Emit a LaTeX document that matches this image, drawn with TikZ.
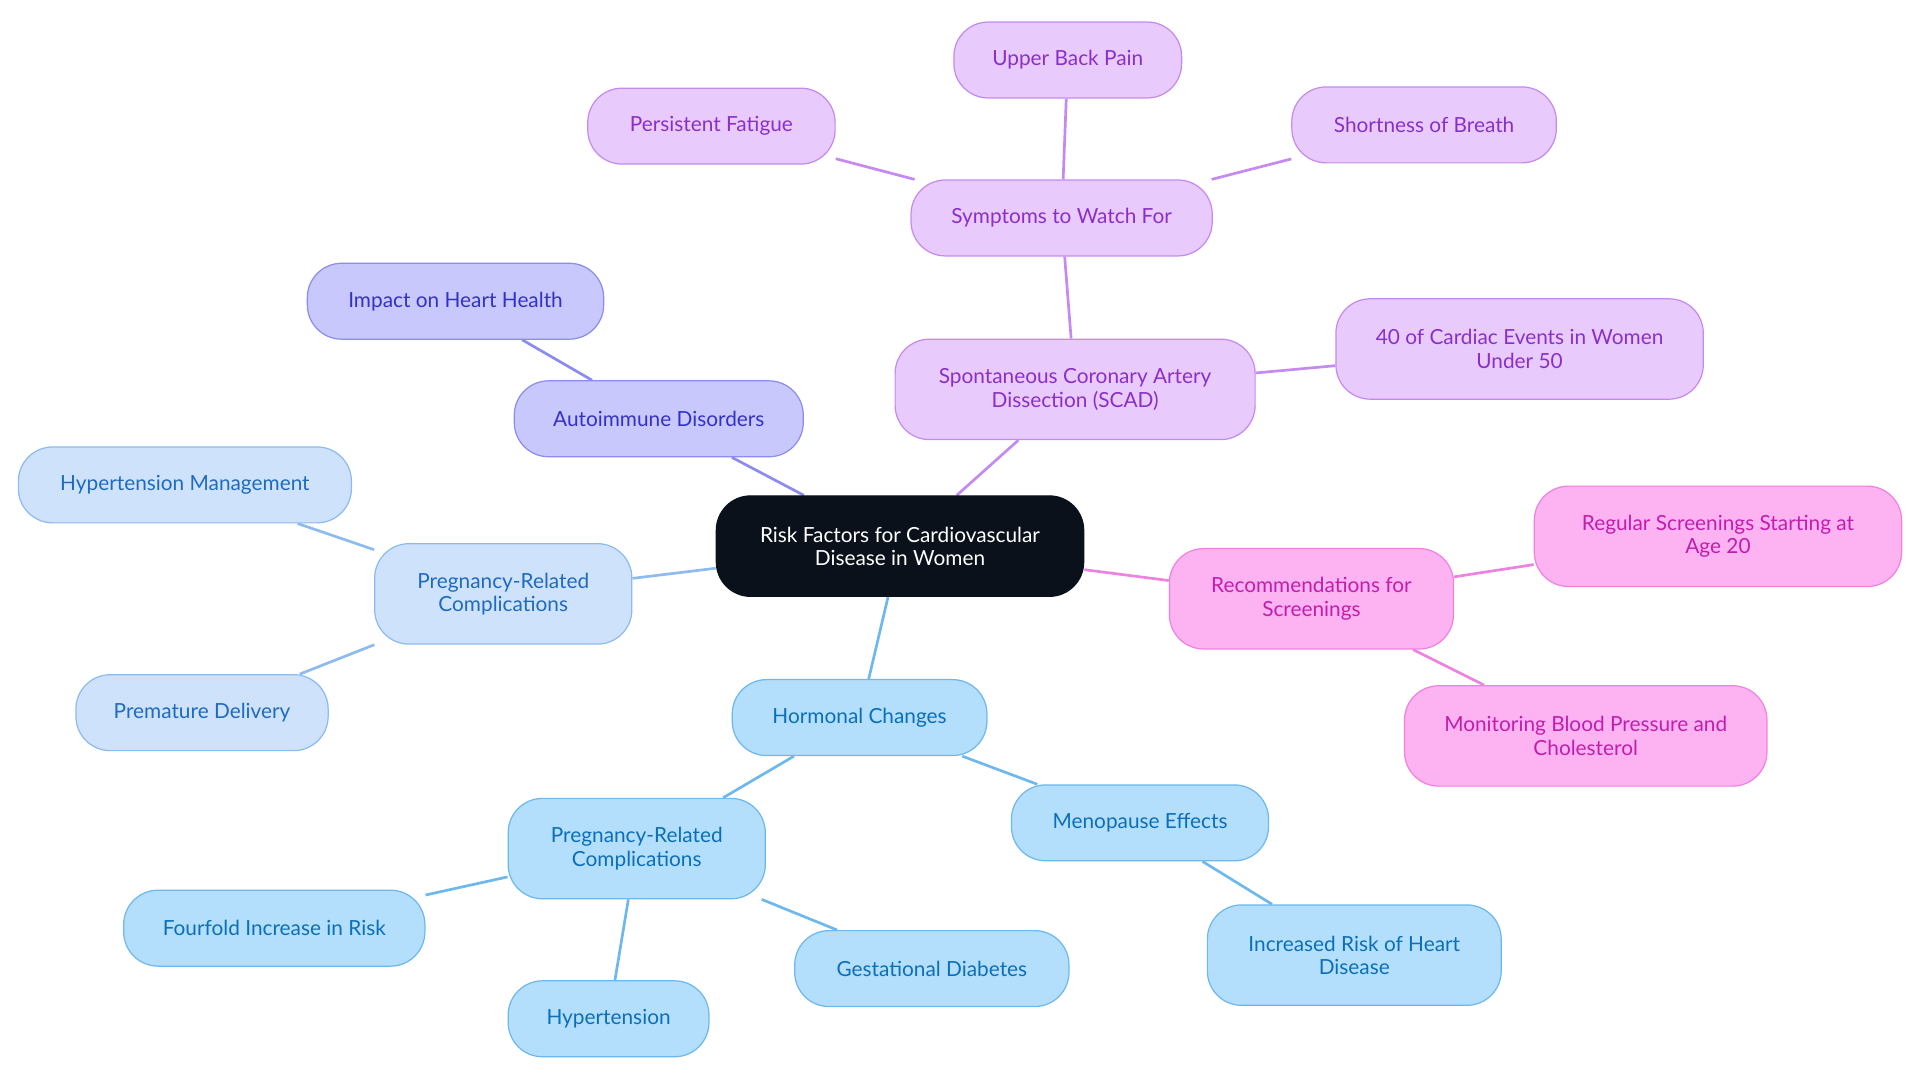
\documentclass[tikz,border=0pt]{standalone}
\usepackage{fontspec}
\setmainfont{Lato}
\usetikzlibrary{backgrounds}
\definecolor{cen}{HTML}{0B111B}
\definecolor{puF}{HTML}{E8CAFC}\definecolor{puD}{HTML}{C58AF0}\definecolor{puT}{HTML}{8B2FC9}
\definecolor{inF}{HTML}{C9C8FC}\definecolor{inD}{HTML}{8C8CF0}\definecolor{inT}{HTML}{3232C8}
\definecolor{lbF}{HTML}{CFE2FB}\definecolor{lbD}{HTML}{8DBBEF}\definecolor{lbT}{HTML}{1E6BC0}
\definecolor{blF}{HTML}{B3DEFC}\definecolor{blD}{HTML}{6EB8EE}\definecolor{blT}{HTML}{0B70B8}
\definecolor{pkF}{HTML}{FDB3F1}\definecolor{pkD}{HTML}{EE82E0}\definecolor{pkT}{HTML}{C21DAE}
\tikzset{
 box/.style={rounded corners=28pt,align=center,font=\fontsize{17}{19}\selectfont,line width=1pt,inner sep=0pt},
 cbox/.style={box,fill=cen,draw=cen,text=white},
 pubox/.style={box,fill=puF,draw=puD,text=puT},
 inbox/.style={box,fill=inF,draw=inD,text=inT},
 lbbox/.style={box,fill=lbF,draw=lbD,text=lbT},
 blbox/.style={box,fill=blF,draw=blD,text=blT},
 pkbox/.style={box,fill=pkF,draw=pkD,text=pkT},
 ed/.style={line width=2.2pt}
}
\newcommand{\bx}[6]{\node[#1,minimum width=#4pt,minimum height=#5pt] (#2) at (#3) {#6};}
\begin{document}
\begin{tikzpicture}[x=1pt,y=-1pt]
\useasboundingbox (0,0) rectangle (1568,884);
\bx{cbox}{c}{735,446}{300}{82}{Risk Factors for Cardiovascular\\Disease in Women}
\bx{pubox}{scad}{878,318}{294}{82}{Spontaneous Coronary Artery\\Dissection (SCAD)}
\bx{pubox}{forty}{1241,285}{300}{82}{40 of Cardiac Events in Women\\Under 50}
\bx{pubox}{sym}{867,178}{246}{62}{Symptoms to Watch For}
\bx{pubox}{fat}{581,103}{202}{62}{Persistent Fatigue}
\bx{pubox}{back}{872,49}{186}{62}{Upper Back Pain}
\bx{pubox}{sob}{1163,102}{216}{62}{Shortness of Breath}
\bx{inbox}{auto}{538,342}{236}{62}{Autoimmune Disorders}
\bx{inbox}{imp}{372,246}{242}{62}{Impact on Heart Health}
\bx{lbbox}{preg}{411,485}{210}{82}{Pregnancy-Related\\Complications}
\bx{lbbox}{hm}{151,396}{272}{62}{Hypertension Management}
\bx{lbbox}{pre}{165,582}{206}{62}{Premature Delivery}
\bx{blbox}{hor}{702,586}{208}{62}{Hormonal Changes}
\bx{blbox}{preg2}{520,693}{210}{82}{Pregnancy-Related\\Complications}
\bx{blbox}{four}{224,758}{246}{62}{Fourfold Increase in Risk}
\bx{blbox}{hyp}{497,832}{164}{62}{Hypertension}
\bx{blbox}{ges}{761,791}{224}{62}{Gestational Diabetes}
\bx{blbox}{men}{931,672}{210}{62}{Menopause Effects}
\bx{blbox}{inc}{1106,780}{240}{82}{Increased Risk of Heart\\Disease}
\bx{pkbox}{rec}{1071,489}{232}{82}{Recommendations for\\Screenings}
\bx{pkbox}{reg}{1403,438}{300}{82}{Regular Screenings Starting at\\Age 20}
\bx{pkbox}{mon}{1295,601}{296}{82}{Monitoring Blood Pressure and\\Cholesterol}
\begin{scope}[on background layer]
\draw[ed,puD] (c)--(scad) (scad)--(forty) (scad)--(sym) (sym)--(fat) (sym)--(back) (sym)--(sob);
\draw[ed,inD] (c)--(auto) (auto)--(imp);
\draw[ed,lbD] (c)--(preg) (preg)--(hm) (preg)--(pre);
\draw[ed,blD] (c)--(hor) (hor)--(preg2) (preg2)--(four) (preg2)--(hyp) (preg2)--(ges) (hor)--(men) (men)--(inc);
\draw[ed,pkD] (c)--(rec) (rec)--(reg) (rec)--(mon);
\end{scope}
\end{tikzpicture}
\end{document}
